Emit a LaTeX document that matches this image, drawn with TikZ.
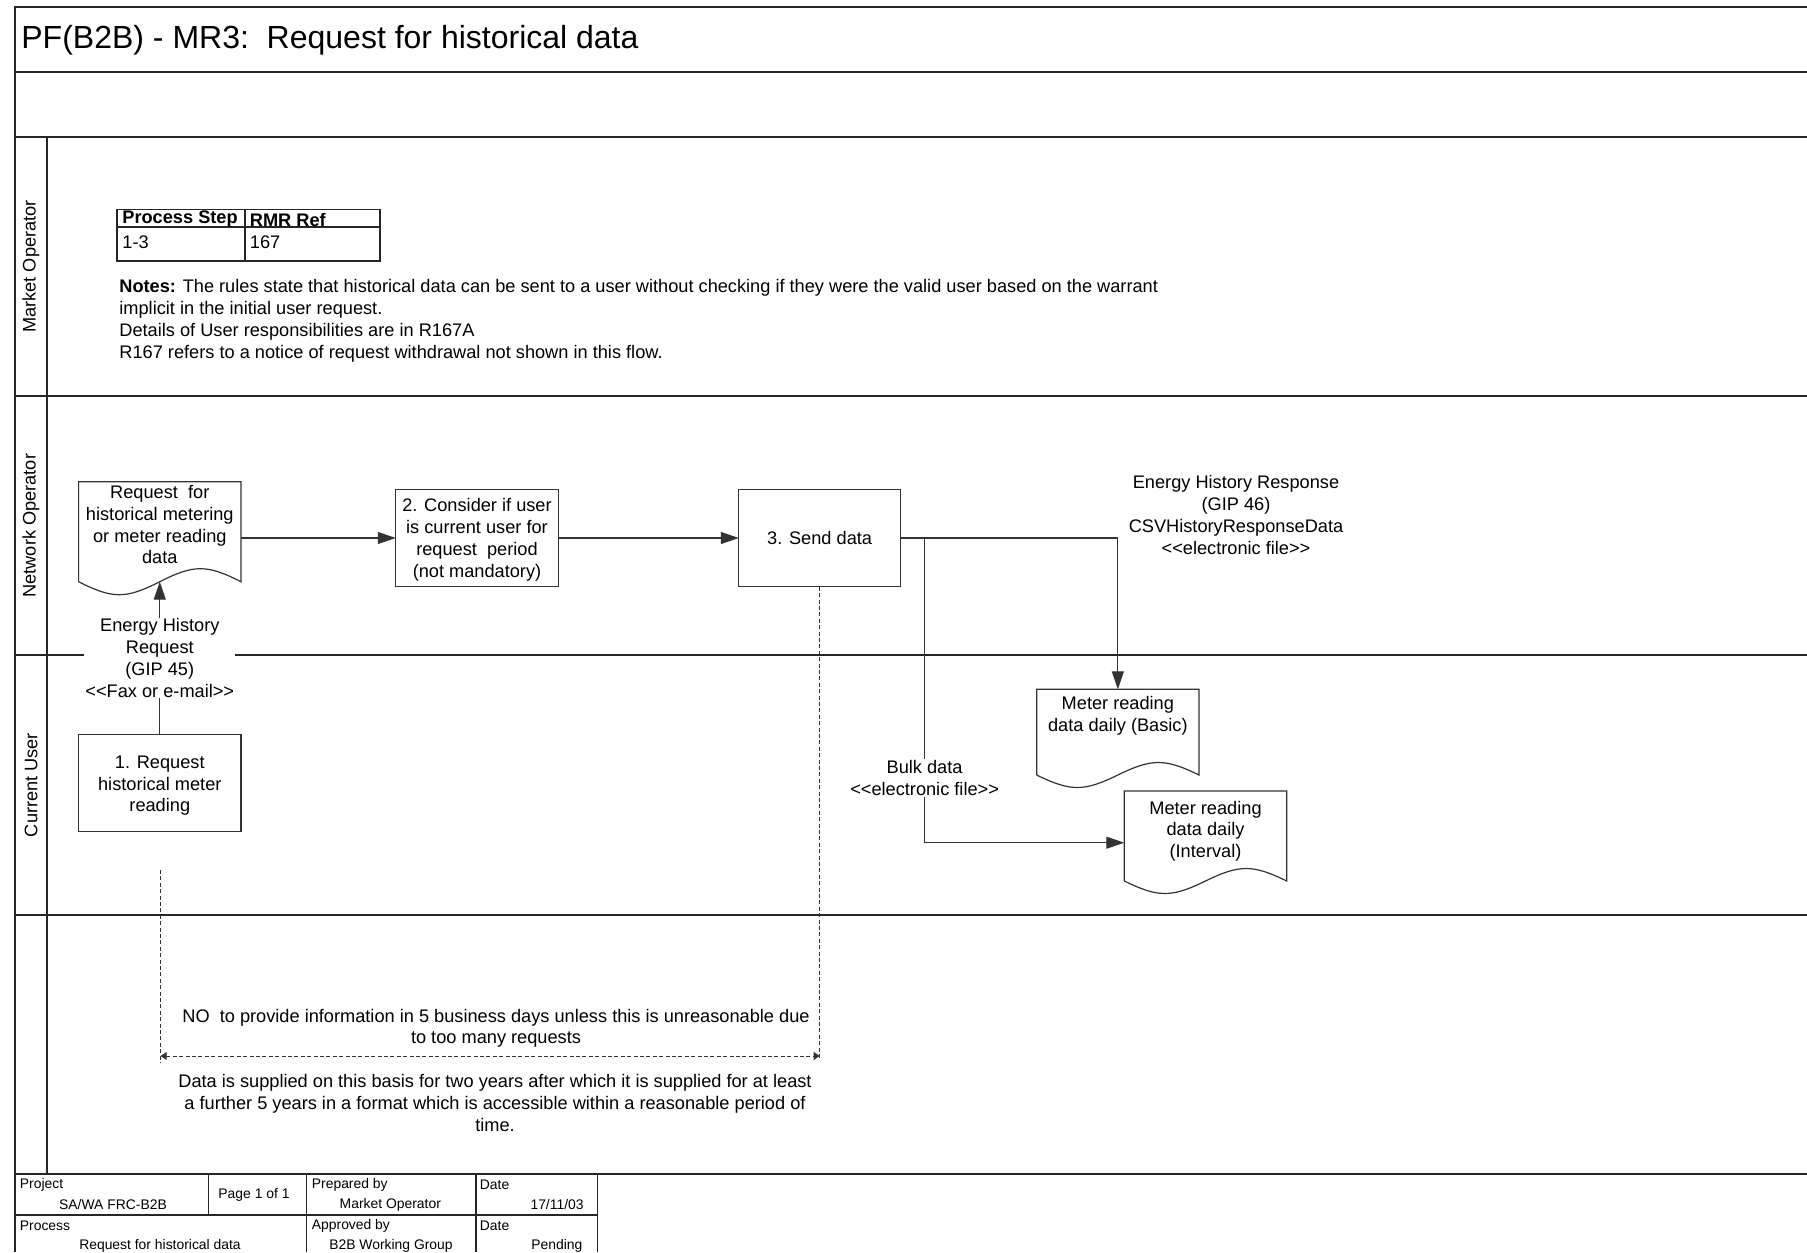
\documentclass[tikz,border=0pt]{standalone}
\usepackage{fontspec}
\setmainfont{Liberation Sans}
\usetikzlibrary{arrows.meta,calc}
\newcommand\bodyfont{\fontsize{9.1pt}{10.85pt}\selectfont}
\newcommand\footfont{\fontsize{6.95pt}{8.4pt}\selectfont}
\newcommand\llt{<\kern0pt<}
\newcommand\ggt{>\kern0pt>}
\newcommand\docoutline[2]{%
  \draw[shp] (#1.south west) -- (#1.north west) -- (#1.north east) -- (#1.south east)
    .. controls ($(#1.south east)!0.21!(#1.south west)+(0pt,#2)$) and ($(#1.south east)!0.29!(#1.south west)+(0pt,#2)$) .. (#1.south)
    .. controls ($(#1.south west)!0.29!(#1.south east)-(0pt,#2)$) and ($(#1.south west)!0.21!(#1.south east)-(0pt,#2)$) .. (#1.south west);
}
\tikzset{
  frameline/.style={line width=0.9pt, draw=black!85},
  tabline/.style={line width=0.6pt, draw=black!85},
  shp/.style={draw=black!80, line width=0.6pt},
  txt/.style={font=\bodyfont, align=center, inner sep=0pt},
  foot/.style={font=\footfont, inner sep=0pt},
  procbox/.style={shp, rectangle, font=\bodyfont, align=center, inner sep=0pt, outer sep=0pt,
                  minimum width=#1, minimum height=48.7pt},
  docbox/.style={rectangle, draw=none, inner sep=0pt, outer sep=0pt},
  arr/.style={shp, -{Triangle[length=9pt,width=6pt]}},
  dsh/.style={draw=black!80, line width=0.5pt, dash pattern=on 2pt off 1.2pt},
  lanelabel/.style={font=\bodyfont, rotate=90, inner sep=0pt},
}
\begin{document}
\begin{tikzpicture}[x=0.5pt, y=-0.5pt]
\path[use as bounding box] (0,0) rectangle (1807,1252);
% frame
\draw[frameline] (1807,7) -- (15,7) -- (15,1252);
\foreach \yy in {71.7,136.7,396,655.3,914.7,1174}
  \draw[frameline] (15,\yy) -- (1807,\yy);
\draw[frameline] (47,136.7) -- (47,1174);
% title
\node[font=\fontsize{16pt}{19pt}\selectfont, anchor=west, inner sep=0pt] (title) at (21,40)
  {PF(B2B) - MR3:\ \ Request for historical data};
% lane labels
\node[lanelabel] (laneMO) at (31,266.5) {Market Operator};
\node[lanelabel] (laneNO) at (31,525.7) {Network Operator};
\node[lanelabel] (laneCU) at (31,785) {Current User};
% process step table
\draw[tabline] (117,209.3) rectangle (380,261);
\draw[tabline] (117,227) -- (380,227);
\draw[tabline] (245,209.3) -- (245,261);
\node[txt, anchor=west] (th1) at (122,219.5) {\textbf{Process Step}};
\node[txt, anchor=west] (th2) at (249.5,219.5) {\textbf{RMR Ref}};
\node[txt, anchor=west] (tc1) at (122,242) {1-3};
\node[txt, anchor=west] (tc2) at (249.5,242) {167};
% notes
\node[txt, align=left, anchor=west] (notes) at (119,320.8)
  {\textbf{Notes:} The rules state that historical data can be sent to a user without checking if they were the valid user based on the warrant\\
   implicit in the initial user request.\\
   Details of User responsibilities are in R167A\\
   R167 refers to a notice of request withdrawal not shown in this flow.};
% documents
\node[docbox, minimum width=81.2pt, minimum height=50pt,
      label={[txt, yshift=3.5pt]center:Request\ \ for\\historical metering\\or meter reading\\data}] (d1) at (159.8,531.7) {};
\node[docbox, minimum width=81.15pt, minimum height=42.85pt,
      label={[txt, yshift=8.3pt]center:Meter reading\\data daily (Basic)}] (d2) at (1117.85,732.15) {};
\node[docbox, minimum width=81.2pt, minimum height=45pt,
      label={[txt, yshift=2.5pt]center:Meter reading\\data daily\\(Interval)}] (d3) at (1205.5,836) {};
\docoutline{d1}{8.67pt}
\docoutline{d2}{8.33pt}
\docoutline{d3}{8.33pt}
% process boxes
\node[procbox=81.25pt] (b2) at (477,538) {\rule{0pt}{8.4pt}2. Consider if user\\is current user for\\request\ \ period\\(not mandatory)};
\node[procbox=80.8pt] (b3) at (819.6,538) {3. Send data};
\node[procbox=81.2pt] (b1) at (159.8,783) {\rule{0pt}{8.9pt}1. Request\\historical meter\\reading};
% connectors
\draw[arr] (b1.north) -- node[txt, fill=white, inner sep=0.6pt] (lreq)
  {Energy History\\Request\\(GIP 45)\\\llt Fax or e-mail\ggt} (d1.south);
\draw[arr] (d1.east |- b2.west) -- (b2.west);
\draw[arr] (b2.east) -- (b3.west);
\draw[arr] (b3.east) -| (d2.north);
\coordinate (split) at (924.6,538);
\draw[arr] (split) |- node[pos=0.394, txt, fill=white, inner sep=0.6pt] (lbulk)
  {Bulk data\\\llt electronic file\ggt} ($(d3.west)+(0,6.7)$);
\node[txt] (lresp) at (1236,515)
  {Energy History Response\\(GIP 46)\\CSVHistoryResponseData\\\llt electronic file\ggt};
% time constraint
\coordinate (dl1) at (160.7,870);
\coordinate (dl2) at (160.7,1063);
\coordinate (dr2) at (819.6,1059);
\draw[dsh] (dl1) -- (dl2);
\draw[dsh] (b3.south) -- (dr2);
\coordinate (da1) at (160.7,1056);
\coordinate (da2) at (819.6,1056);
\draw[dsh, {Triangle[length=3pt,width=4pt]}-{Triangle[length=3pt,width=4pt]}] (da1) -- (da2);
\node[txt] (tno) at (496,1028.3)
  {NO\ \ to provide information in 5 business days unless this is unreasonable due\\to too many requests};
\node[txt] (tdata) at (495,1103)
  {Data is supplied on this basis for two years after which it is supplied for at least\\a further 5 years in a format which is accessible within a reasonable period of\\time.};
% footer table
\draw[tabline] (15,1215) -- (597.7,1215);
\draw[tabline] (208.3,1174) -- (208.3,1215);
\draw[tabline] (306.7,1174) -- (306.7,1252);
\draw[tabline] (476,1174) -- (476,1252);
\draw[tabline] (597.7,1174) -- (597.7,1252);
\node[foot, anchor=west] (fproj) at (19.5,1185) {Project};
\node[foot] (fprojv) at (113,1205) {SA/WA FRC-B2B};
\node[foot] (fpage) at (254,1195) {Page 1 of 1};
\node[foot, anchor=west] (fprep) at (311.5,1185) {Prepared by};
\node[foot] (fprepv) at (390.3,1205) {Market Operator};
\node[foot, anchor=west] (fdate1) at (479.5,1185) {Date};
\node[foot, anchor=east] (fdate1v) at (584,1205) {17/11/03};
\node[foot, anchor=west] (fproc) at (19.5,1226) {Process};
\node[foot] (fprocv) at (160,1246) {Request for historical data};
\node[foot, anchor=west] (fappr) at (311.5,1226) {Approved by};
\node[foot] (fapprv) at (391,1246) {B2B Working Group};
\node[foot, anchor=west] (fdate2) at (479.5,1226) {Date};
\node[foot, anchor=east] (fdate2v) at (582.7,1246) {Pending};
\end{tikzpicture}
\end{document}
